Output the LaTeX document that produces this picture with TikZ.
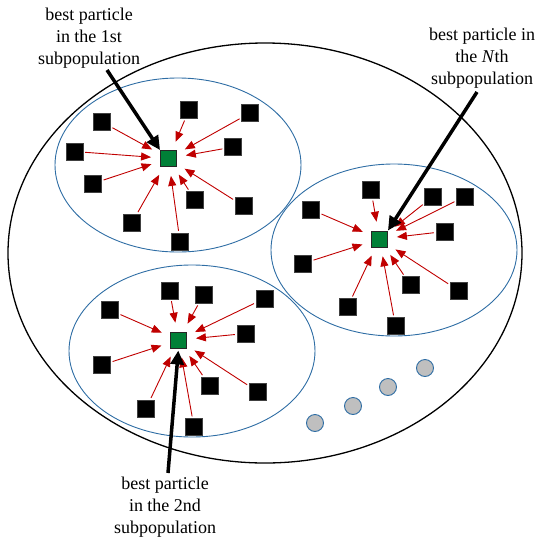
\documentclass[tikz,border=0pt]{standalone}
\usepackage{fontspec}
\setmainfont{Liberation Serif}
\usetikzlibrary{arrows.meta}
\definecolor{ringblue}{RGB}{46,109,164}
\definecolor{bestgreen}{RGB}{0,128,55}
\definecolor{pullred}{RGB}{192,0,0}
\definecolor{idlegray}{RGB}{191,191,191}

\begin{document}
\begin{tikzpicture}[x=1pt,y=-1pt,
  particle/.style={rectangle, fill=black, draw=black!75, line width=0.4pt, minimum size=17pt, inner sep=0pt},
  best/.style={rectangle, fill=bestgreen, draw=black!85, line width=0.9pt, minimum size=16pt, inner sep=0pt},
  pull/.style={draw=pullred, line width=0.9pt, -{Triangle[length=10pt,width=8pt]}, shorten <=2pt, shorten >=9pt},
  pointer/.style={draw=black, line width=3.5pt, -{Triangle[length=14pt,width=13pt]}},
  caption/.style={align=center, font=\fontsize{18}{22}\selectfont, inner sep=0pt},
  swarm/.style={draw=ringblue, line width=0.9pt},
  idle/.style={circle, fill=idlegray, draw=ringblue, line width=0.9pt, minimum size=17pt, inner sep=0pt}]

\useasboundingbox (0,0) rectangle (539,542);

% whole population
\draw[line width=1.3pt] (265,253) ellipse [x radius=257pt, y radius=210pt];

% subpopulation borders
\draw[swarm] (178,165) ellipse [x radius=123pt, y radius=87pt];
\draw[swarm] (394,250) ellipse [x radius=123pt, y radius=86pt];
\draw[swarm] (192,351) ellipse [x radius=123pt, y radius=86pt];

% ---- 1st subpopulation ----
\node[best] (g1) at (168.5,158.5) {};
\node[particle] (a1)  at (102,122) {};
\node[particle] (a2)  at (189,110) {};
\node[particle] (a3)  at (250,113) {};
\node[particle] (a4)  at (74.5,151.5) {};
\node[particle] (a5)  at (233,147) {};
\node[particle] (a6)  at (93,183.5) {};
\node[particle] (a7)  at (195,200) {};
\node[particle] (a8)  at (243.5,206) {};
\node[particle] (a9)  at (132,222.5) {};
\node[particle] (a10) at (180,241.5) {};
\foreach \n in {a1,a2,a3,a4,a5,a6,a7,a8,a9,a10}
  \draw[pull] (\n) -- (g1);

% ---- Nth subpopulation ----
\node[best] (gN) at (379.5,239) {};
\node[particle] (b1)  at (371,190) {};
\node[particle] (b2)  at (433,196.5) {};
\node[particle] (b3)  at (465,196.5) {};
\node[particle] (b4)  at (311,209.5) {};
\node[particle] (b5)  at (444.5,231.5) {};
\node[particle] (b6)  at (303,263.5) {};
\node[particle] (b7)  at (410.5,285) {};
\node[particle] (b8)  at (458.5,290.5) {};
\node[particle] (b9)  at (347.5,307) {};
\node[particle] (b10) at (395.5,326) {};
\foreach \n in {b1,b2,b3,b4,b5,b6,b7,b8,b9,b10}
  \draw[pull] (\n) -- (gN);

% ---- 2nd subpopulation ----
\node[best] (g2) at (178.5,340) {};
\node[particle] (c1)  at (169.5,290.5) {};
\node[particle] (c2)  at (203.5,295) {};
\node[particle] (c3)  at (264.5,298.5) {};
\node[particle] (c4)  at (110,310) {};
\node[particle] (c5)  at (245.5,333.5) {};
\node[particle] (c6)  at (102,365) {};
\node[particle] (c7)  at (209.5,385.5) {};
\node[particle] (c8)  at (257.5,391.5) {};
\node[particle] (c9)  at (146,408.5) {};
\node[particle] (c10) at (194,427) {};
\foreach \n in {c1,c2,c3,c4,c5,c6,c7,c8,c9,c10}
  \draw[pull] (\n) -- (g2);

% further subpopulations, not drawn in full
\node[idle] (d1) at (315,423) {};
\node[idle] (d2) at (353,406) {};
\node[idle] (d3) at (388,387) {};
\node[idle] (d4) at (425,368) {};

% captions and pointers to the best particles
\node[caption] (lab1) at (89,38) {best particle\\in the 1st\\subpopulation};
\node[caption] (labN) at (482,58) {best particle in\\the \textit{N}th\\subpopulation};
\node[caption] (lab2) at (165,507) {best particle\\in the 2nd\\subpopulation};

\coordinate (t1) at (107,70);
\coordinate (tN) at (477,92);
\coordinate (t2) at (168,473);

\draw[pointer] (t1) -- (g1.north west);
\draw[pointer] (tN) -- (gN.north east);
\draw[pointer, shorten >=2pt] (t2) -- (g2.south);

\end{tikzpicture}
\end{document}
